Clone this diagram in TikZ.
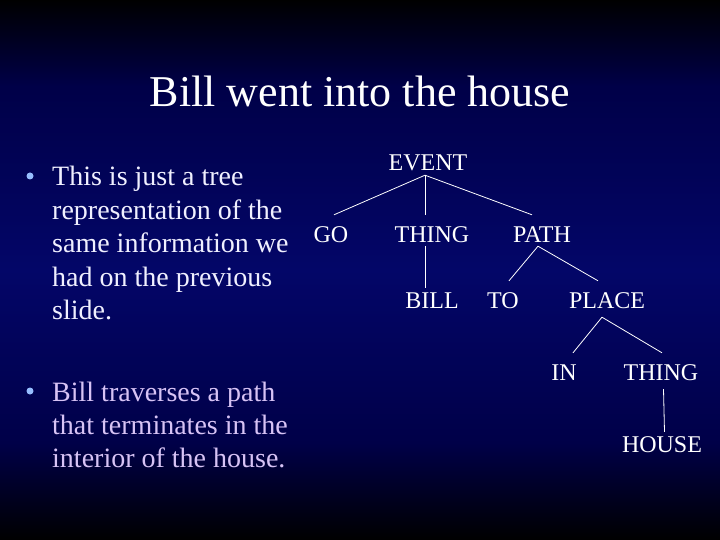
\documentclass[tikz,border=0pt]{standalone}
\usepackage{fontspec}
\setmainfont{Liberation Serif}
\usetikzlibrary{positioning}
\definecolor{navyA}{RGB}{3,6,104}
\definecolor{navyB}{RGB}{0,0,72}
\definecolor{textwhite}{RGB}{240,240,255}
\definecolor{lavender}{RGB}{215,195,245}
\definecolor{bulletblue}{RGB}{150,190,255}
\pgfdeclareverticalshading{slidebg}{100bp}{color(0bp)=(black); color(25bp)=(black); color(34bp)=(navyB); color(50bp)=(navyA); color(67bp)=(navyB); color(75bp)=(black); color(100bp)=(black)}

\begin{document}
\begin{tikzpicture}[x=1pt,y=-1pt,
    lbl/.style={text=white,font=\fontsize{24}{28}\selectfont,inner sep=4pt,text height=23pt,text depth=0pt,anchor=base},
    branch/.style={draw=white,line width=0.8pt},
    bullettext/.style={anchor=base west,text width=260pt,align=flush left,inner sep=0pt,font=\fontsize{28}{33.4}\selectfont}]
    % background
    \shade[shading=slidebg] (0,0) rectangle (720,540);

    \node[text=white,font=\fontsize{44}{50}\selectfont,anchor=base] (title) at (360,107) {Bill went into the house};

    % bullets
    \node[bullettext,text=textwhite] (first) at (52,186) {This is just a tree\\ representation of the\\ same information we\\ had on the previous\\ slide.};
    \node[bullettext,text=lavender] (second) at (52,401) {Bill traverses a path\\ that terminates in the\\ interior of the house.};
    \fill[bulletblue] (30,176) circle (3.5pt);
    \fill[bulletblue] (30,391) circle (3.5pt);

    % tree
    \node[lbl] (event) at (428,171) {EVENT};
    \node[lbl] (go) at (331,242) {GO};
    \node[lbl] (thing) at (432,242) {THING};
    \node[lbl] (path) at (542,242) {PATH};
    \node[lbl] (bill) at (432,308) {BILL};
    \node[lbl] (to) at (503,308) {TO};
    \node[lbl] (place) at (607,308) {PLACE};
    \node[lbl] (in) at (564,380) {IN};
    \node[lbl] (thingb) at (661,380) {THING};
    \node[lbl] (house) at (662,452) {HOUSE};

    \draw[branch]
      ([xshift=-3pt]event.south) edge ([xshift=3pt]go.north)
      ([xshift=-3pt]event.south) edge ([xshift=-7pt]thing.north)
      ([xshift=-3pt]event.south) edge ([xshift=-10pt]path.north)
      ([xshift=-7pt]thing.south) edge ([xshift=-7pt,yshift=-7pt]bill.north)
      ([xshift=-4pt]path.south) edge ([xshift=6pt]to.north)
      ([xshift=-4pt]path.south) edge ([xshift=-9pt]place.north)
      ([xshift=-5pt,yshift=-5pt]place.south) edge ([xshift=9pt]in.north)
      ([xshift=-5pt,yshift=-5pt]place.south) edge ([xshift=1pt]thingb.north)
      ([xshift=2.5pt,yshift=-5pt]thingb.south) edge ([xshift=2.5pt,yshift=-7pt]house.north);
\end{tikzpicture}
\end{document}
